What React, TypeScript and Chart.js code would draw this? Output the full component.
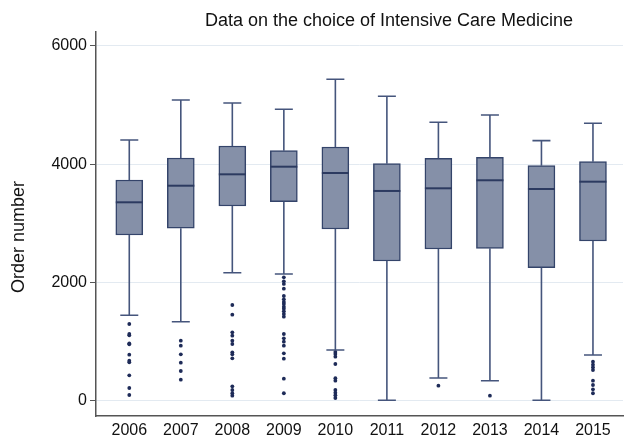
import React, { useEffect, useRef } from "react";
import { Chart, registerables } from "chart.js";

Chart.register(...registerables);

const TITLE = "Data on the choice of Intensive Care Medicine";
const Y_TITLE = "Order number";

const years = [2006, 2007, 2008, 2009, 2010, 2011, 2012, 2013, 2014, 2015];
const whiskerLow = [1439, 1331, 2161, 2139, 852, 0, 378, 332, 0, 767];
const q1 = [2799, 2913, 3290, 3364, 2901, 2359, 2562, 2574, 2246, 2698];
const median = [3353, 3634, 3827, 3956, 3849, 3545, 3590, 3726, 3578, 3702];
const q3 = [3731, 4103, 4307, 4227, 4290, 4007, 4098, 4115, 3973, 4041];
const whiskerHigh = [4408, 5085, 5034, 4928, 5436, 5148, 4708, 4831, 4397, 4691];

const outliers2006 = [1292, 1123, 1101, 965, 948, 772, 671, 644, 423, 208, 90];
const outliers2007 = [1009, 925, 779, 637, 496, 349];
const outliers2008 = [1614, 1450, 1151, 1094, 1009, 953, 813, 779, 711, 237, 174, 119, 78];
const outliers2009 = [2083, 2015, 1970, 1890, 1766, 1710, 1665, 1631, 1585, 1551, 1507, 1461, 1416, 1123, 1050, 992, 925, 796, 705, 366, 119];
const outliers2010 = [818, 784, 738, 615, 373, 332, 174, 129, 85, 39];
const outliers2011: number[] = [];
const outliers2012 = [248];
const outliers2013 = [78];
const outliers2014: number[] = [];
const outliers2015 = [654, 603, 559, 513, 332, 259, 186, 119];

const outliersByYear = [
  outliers2006, outliers2007, outliers2008, outliers2009, outliers2010,
  outliers2011, outliers2012, outliers2013, outliers2014, outliers2015,
];

const yTicks = [0, 2000, 4000, 6000];

const FONT = '"Liberation Sans", Arial, Helvetica, sans-serif';

const boxPlugin = {
  id: "boxExtras",
  afterDatasetsDraw(chart: any) {
    const { ctx, scales } = chart;
    const xs = scales.x;
    const ys = scales.y;
    ctx.save();
    ctx.strokeStyle = "#45557c";
    ctx.lineWidth = 1.6;
    const cap = 9;
    years.forEach((yr, i) => {
      const x = xs.getPixelForValue(yr);
      const pHi = ys.getPixelForValue(whiskerHigh[i]);
      const pQ3 = ys.getPixelForValue(q3[i]);
      const pQ1 = ys.getPixelForValue(q1[i]);
      const pLo = ys.getPixelForValue(whiskerLow[i]);
      ctx.beginPath();
      ctx.moveTo(x, pQ3);
      ctx.lineTo(x, pHi);
      ctx.moveTo(x - cap, pHi);
      ctx.lineTo(x + cap, pHi);
      ctx.moveTo(x, pQ1);
      ctx.lineTo(x, pLo);
      ctx.moveTo(x - cap, pLo);
      ctx.lineTo(x + cap, pLo);
      ctx.stroke();
    });
    ctx.strokeStyle = "#2c3a60";
    ctx.lineWidth = 2;
    years.forEach((yr, i) => {
      const x = xs.getPixelForValue(yr);
      const pM = ys.getPixelForValue(median[i]);
      ctx.beginPath();
      ctx.moveTo(x - 13.5, pM);
      ctx.lineTo(x + 13.5, pM);
      ctx.stroke();
    });
    ctx.restore();
  },
  afterDraw(chart: any) {
    const { ctx } = chart;
    ctx.save();
    ctx.fillStyle = "#111";
    ctx.font = `18px ${FONT}`;
    ctx.textAlign = "center";
    ctx.textBaseline = "middle";
    ctx.fillText(TITLE, 389, 21);
    ctx.translate(19, 237);
    ctx.rotate(-Math.PI / 2);
    ctx.fillText(Y_TITLE, 0, 0);
    ctx.restore();
  },
};

export default function App() {
  const ref = useRef<HTMLCanvasElement | null>(null);

  useEffect(() => {
    document.body.style.margin = "0";
    const canvas = ref.current;
    if (!canvas) return;

    const boxData = years.map((yr, i) => ({ x: yr, y: [q1[i], q3[i]] }));
    const outlierData: { x: number; y: number }[] = [];
    years.forEach((yr, i) => {
      outliersByYear[i].forEach((v) => outlierData.push({ x: yr, y: v }));
    });

    const chart = new Chart(canvas, {
      type: "bar",
      data: {
        datasets: [
          {
            type: "scatter",
            data: outlierData,
            pointRadius: 1.9,
            pointBackgroundColor: "#1e2b58",
            pointBorderWidth: 0,
            order: 0,
          } as any,
          {
            type: "bar",
            data: boxData as any,
            backgroundColor: "#8590a8",
            borderColor: "#34446a",
            borderWidth: 1.5,
            borderSkipped: false,
            barThickness: 27,
            grouped: false,
            order: 1,
          } as any,
        ],
      },
      plugins: [boxPlugin],
      options: {
        animation: false,
        responsive: false,
        maintainAspectRatio: false,
        layout: { padding: { top: 32, left: 0, right: 0, bottom: 0 } },
        plugins: {
          legend: { display: false },
          tooltip: { enabled: false },
          title: { display: false },
        },
        scales: {
          x: {
            type: "linear",
            offset: false,
            min: 2005.354,
            max: 2015.583,
            afterBuildTicks: (s: any) => {
              s.ticks = years.map((v) => ({ value: v }));
            },
            afterFit: (s: any) => {
              s.height = 21;
            },
            ticks: {
              callback: (v: any) => String(v),
              color: "#111",
              font: { family: FONT, size: 16 },
              padding: 5,
              maxRotation: 0,
              autoSkip: false,
            },
            grid: { display: false, drawTicks: false, offset: false },
            border: { display: true, color: "#555", width: 1.5 },
          },
          y: {
            type: "linear",
            min: -266,
            max: 6237,
            afterBuildTicks: (s: any) => {
              s.ticks = yTicks.map((v) => ({ value: v }));
            },
            afterFit: (s: any) => {
              s.width = 96;
            },
            ticks: {
              callback: (v: any) => String(v),
              color: "#111",
              font: { family: FONT, size: 16 },
              padding: 3,
            },
            grid: {
              color: "#e3eaf1",
              tickColor: "#555",
              tickLength: 6,
              lineWidth: 1,
            },
            border: { display: true, color: "#555", width: 1.5 },
          },
        },
      } as any,
    });

    return () => chart.destroy();
  }, []);

  return (
    <div style={{ width: 627, height: 437 }}>
      <canvas ref={ref} width={627} height={437} style={{ display: "block" }} />
    </div>
  );
}
